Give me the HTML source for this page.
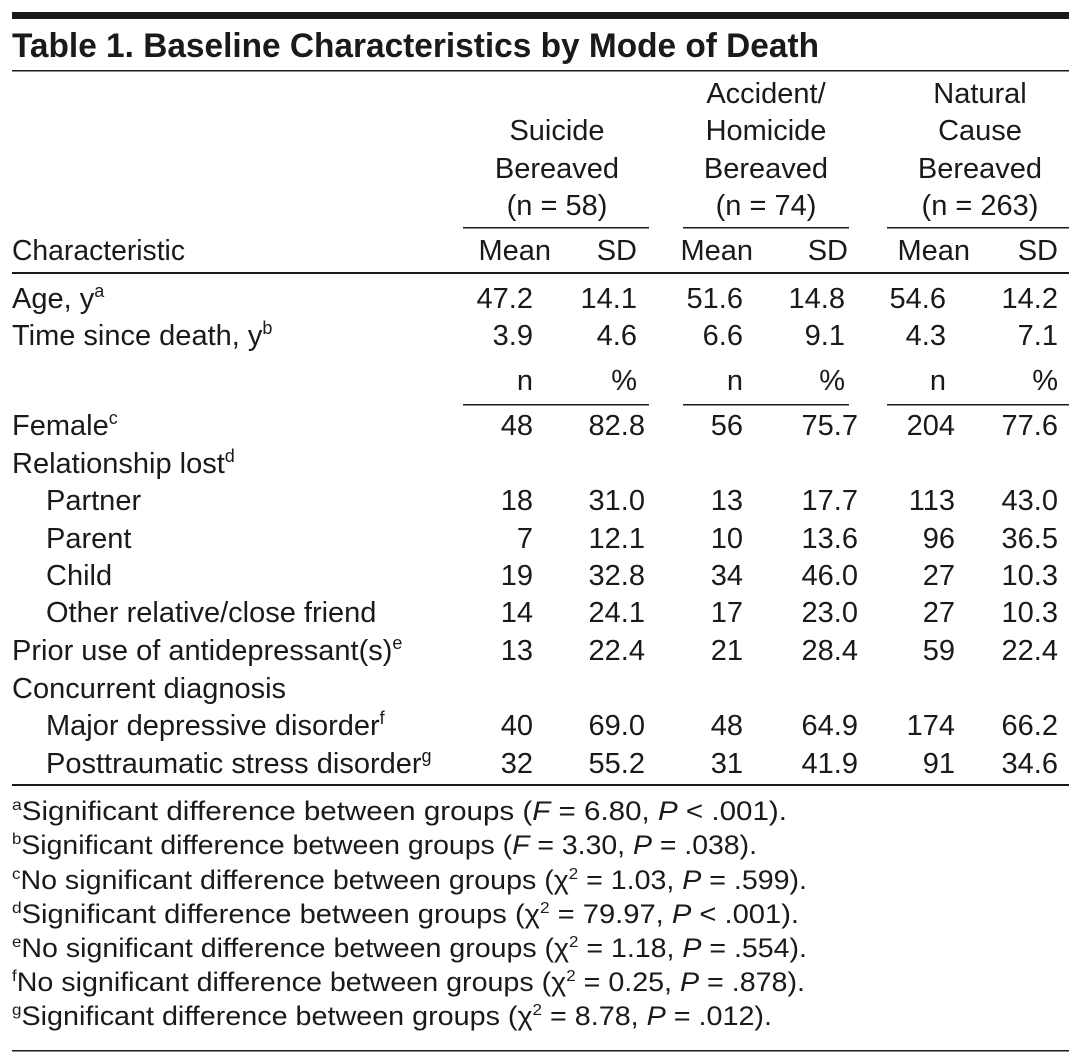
<!DOCTYPE html>
<html><head><meta charset="utf-8"><style>
html,body{margin:0;padding:0;background:#fff}
svg{display:block}
text{font-family:"Liberation Sans",sans-serif;fill:#1a1a1a}
</style></head><body>
<svg width="1081" height="1060" viewBox="0 0 1081 1060">
<rect x="12" y="12" width="1057" height="7" fill="#1a1a1a"/>
<text x="12" y="57" font-size="34" font-weight="bold" textLength="807" lengthAdjust="spacingAndGlyphs">Table 1. Baseline Characteristics by Mode of Death</text>
<rect x="12" y="70" width="1057" height="1.5" fill="#1a1a1a"/>
<g font-size="29" text-anchor="middle">
<text x="557" y="140">Suicide</text><text x="557" y="178">Bereaved</text><text x="557" y="215">(n = 58)</text>
<text x="766" y="103">Accident/</text><text x="766" y="140">Homicide</text><text x="766" y="178">Bereaved</text><text x="766" y="215">(n = 74)</text>
<text x="980" y="103">Natural</text><text x="980" y="140">Cause</text><text x="980" y="178">Bereaved</text><text x="980" y="215">(n = 263)</text>
</g>
<g fill="#1a1a1a">
<rect x="463" y="227" width="186" height="1.5"/><rect x="683" y="227" width="166" height="1.5"/><rect x="887" y="227" width="182" height="1.5"/>
</g>
<text x="12" y="260" font-size="29" textLength="173" lengthAdjust="spacingAndGlyphs">Characteristic</text>
<g font-size="29" text-anchor="end">
<text x="551" y="260">Mean</text><text x="637" y="260">SD</text>
<text x="753" y="260">Mean</text><text x="848" y="260">SD</text>
<text x="970" y="260">Mean</text><text x="1058" y="260">SD</text>
</g>
<rect x="12" y="272" width="1057" height="2" fill="#1a1a1a"/>
<g font-size="29">
<text x="12" y="308">Age, y<tspan font-size="18" dy="-11">a</tspan></text>
<text x="12" y="345">Time since death, y<tspan font-size="18" dy="-11">b</tspan></text>
<text x="12" y="435">Female<tspan font-size="18" dy="-11">c</tspan></text>
<text x="12" y="473">Relationship lost<tspan font-size="18" dy="-11">d</tspan></text>
<text x="46" y="510">Partner</text>
<text x="46" y="548">Parent</text>
<text x="46" y="585">Child</text>
<text x="46" y="622">Other relative/close friend</text>
<text x="12" y="660">Prior use of antidepressant(s)<tspan font-size="18" dy="-11">e</tspan></text>
<text x="12" y="698">Concurrent diagnosis</text>
<text x="46" y="735">Major depressive disorder<tspan font-size="18" dy="-11">f</tspan></text>
<text x="46" y="773">Posttraumatic stress disorder<tspan font-size="18" dy="-11">g</tspan></text>
</g>
<g font-size="29" text-anchor="end">
<text x="533" y="308">47.2</text><text x="637" y="308">14.1</text><text x="743" y="308">51.6</text><text x="845" y="308">14.8</text><text x="946" y="308">54.6</text><text x="1058" y="308">14.2</text>
<text x="533" y="345">3.9</text><text x="637" y="345">4.6</text><text x="743" y="345">6.6</text><text x="845" y="345">9.1</text><text x="946" y="345">4.3</text><text x="1058" y="345">7.1</text>
<text x="533" y="390">n</text><text x="637" y="390">%</text><text x="743" y="390">n</text><text x="845" y="390">%</text><text x="946" y="390">n</text><text x="1058" y="390">%</text>
<text x="533" y="435">48</text><text x="645" y="435">82.8</text><text x="743" y="435">56</text><text x="858" y="435">75.7</text><text x="955" y="435">204</text><text x="1058" y="435">77.6</text>
<text x="533" y="510">18</text><text x="645" y="510">31.0</text><text x="743" y="510">13</text><text x="858" y="510">17.7</text><text x="955" y="510">113</text><text x="1058" y="510">43.0</text>
<text x="533" y="548">7</text><text x="645" y="548">12.1</text><text x="743" y="548">10</text><text x="858" y="548">13.6</text><text x="955" y="548">96</text><text x="1058" y="548">36.5</text>
<text x="533" y="585">19</text><text x="645" y="585">32.8</text><text x="743" y="585">34</text><text x="858" y="585">46.0</text><text x="955" y="585">27</text><text x="1058" y="585">10.3</text>
<text x="533" y="622">14</text><text x="645" y="622">24.1</text><text x="743" y="622">17</text><text x="858" y="622">23.0</text><text x="955" y="622">27</text><text x="1058" y="622">10.3</text>
<text x="533" y="660">13</text><text x="645" y="660">22.4</text><text x="743" y="660">21</text><text x="858" y="660">28.4</text><text x="955" y="660">59</text><text x="1058" y="660">22.4</text>
<text x="533" y="735">40</text><text x="645" y="735">69.0</text><text x="743" y="735">48</text><text x="858" y="735">64.9</text><text x="955" y="735">174</text><text x="1058" y="735">66.2</text>
<text x="533" y="773">32</text><text x="645" y="773">55.2</text><text x="743" y="773">31</text><text x="858" y="773">41.9</text><text x="955" y="773">91</text><text x="1058" y="773">34.6</text>
</g>
<g fill="#1a1a1a">
<rect x="463" y="404" width="186" height="1.5"/><rect x="683" y="404" width="166" height="1.5"/><rect x="887" y="404" width="182" height="1.5"/>
</g>
<rect x="12" y="784" width="1057" height="2" fill="#1a1a1a"/>
<g font-size="27">
<text x="12" y="820" textLength="775" lengthAdjust="spacingAndGlyphs"><tspan font-size="16" dy="-10">a</tspan><tspan dy="10">Significant difference between groups (</tspan><tspan font-style="italic">F</tspan> = 6.80, <tspan font-style="italic">P</tspan> &lt; .001).</text>
<text x="12" y="854" textLength="745" lengthAdjust="spacingAndGlyphs"><tspan font-size="16" dy="-10">b</tspan><tspan dy="10">Significant difference between groups (</tspan><tspan font-style="italic">F</tspan> = 3.30, <tspan font-style="italic">P</tspan> = .038).</text>
<text x="12" y="889" textLength="795" lengthAdjust="spacingAndGlyphs"><tspan font-size="16" dy="-10">c</tspan><tspan dy="10">No significant difference between groups (χ</tspan><tspan font-size="16" dy="-10">2</tspan><tspan dy="10"> = 1.03, </tspan><tspan font-style="italic">P</tspan> = .599).</text>
<text x="12" y="923" textLength="787" lengthAdjust="spacingAndGlyphs"><tspan font-size="16" dy="-10">d</tspan><tspan dy="10">Significant difference between groups (χ</tspan><tspan font-size="16" dy="-10">2</tspan><tspan dy="10"> = 79.97, </tspan><tspan font-style="italic">P</tspan> &lt; .001).</text>
<text x="12" y="957" textLength="795" lengthAdjust="spacingAndGlyphs"><tspan font-size="16" dy="-10">e</tspan><tspan dy="10">No significant difference between groups (χ</tspan><tspan font-size="16" dy="-10">2</tspan><tspan dy="10"> = 1.18, </tspan><tspan font-style="italic">P</tspan> = .554).</text>
<text x="12" y="991" textLength="793" lengthAdjust="spacingAndGlyphs"><tspan font-size="16" dy="-10">f</tspan><tspan dy="10">No significant difference between groups (χ</tspan><tspan font-size="16" dy="-10">2</tspan><tspan dy="10"> = 0.25, </tspan><tspan font-style="italic">P</tspan> = .878).</text>
<text x="12" y="1025" textLength="760" lengthAdjust="spacingAndGlyphs"><tspan font-size="16" dy="-10">g</tspan><tspan dy="10">Significant difference between groups (χ</tspan><tspan font-size="16" dy="-10">2</tspan><tspan dy="10"> = 8.78, </tspan><tspan font-style="italic">P</tspan> = .012).</text>
</g>
<rect x="12" y="1050" width="1057" height="1.5" fill="#1a1a1a"/>
</svg>
</body></html>
